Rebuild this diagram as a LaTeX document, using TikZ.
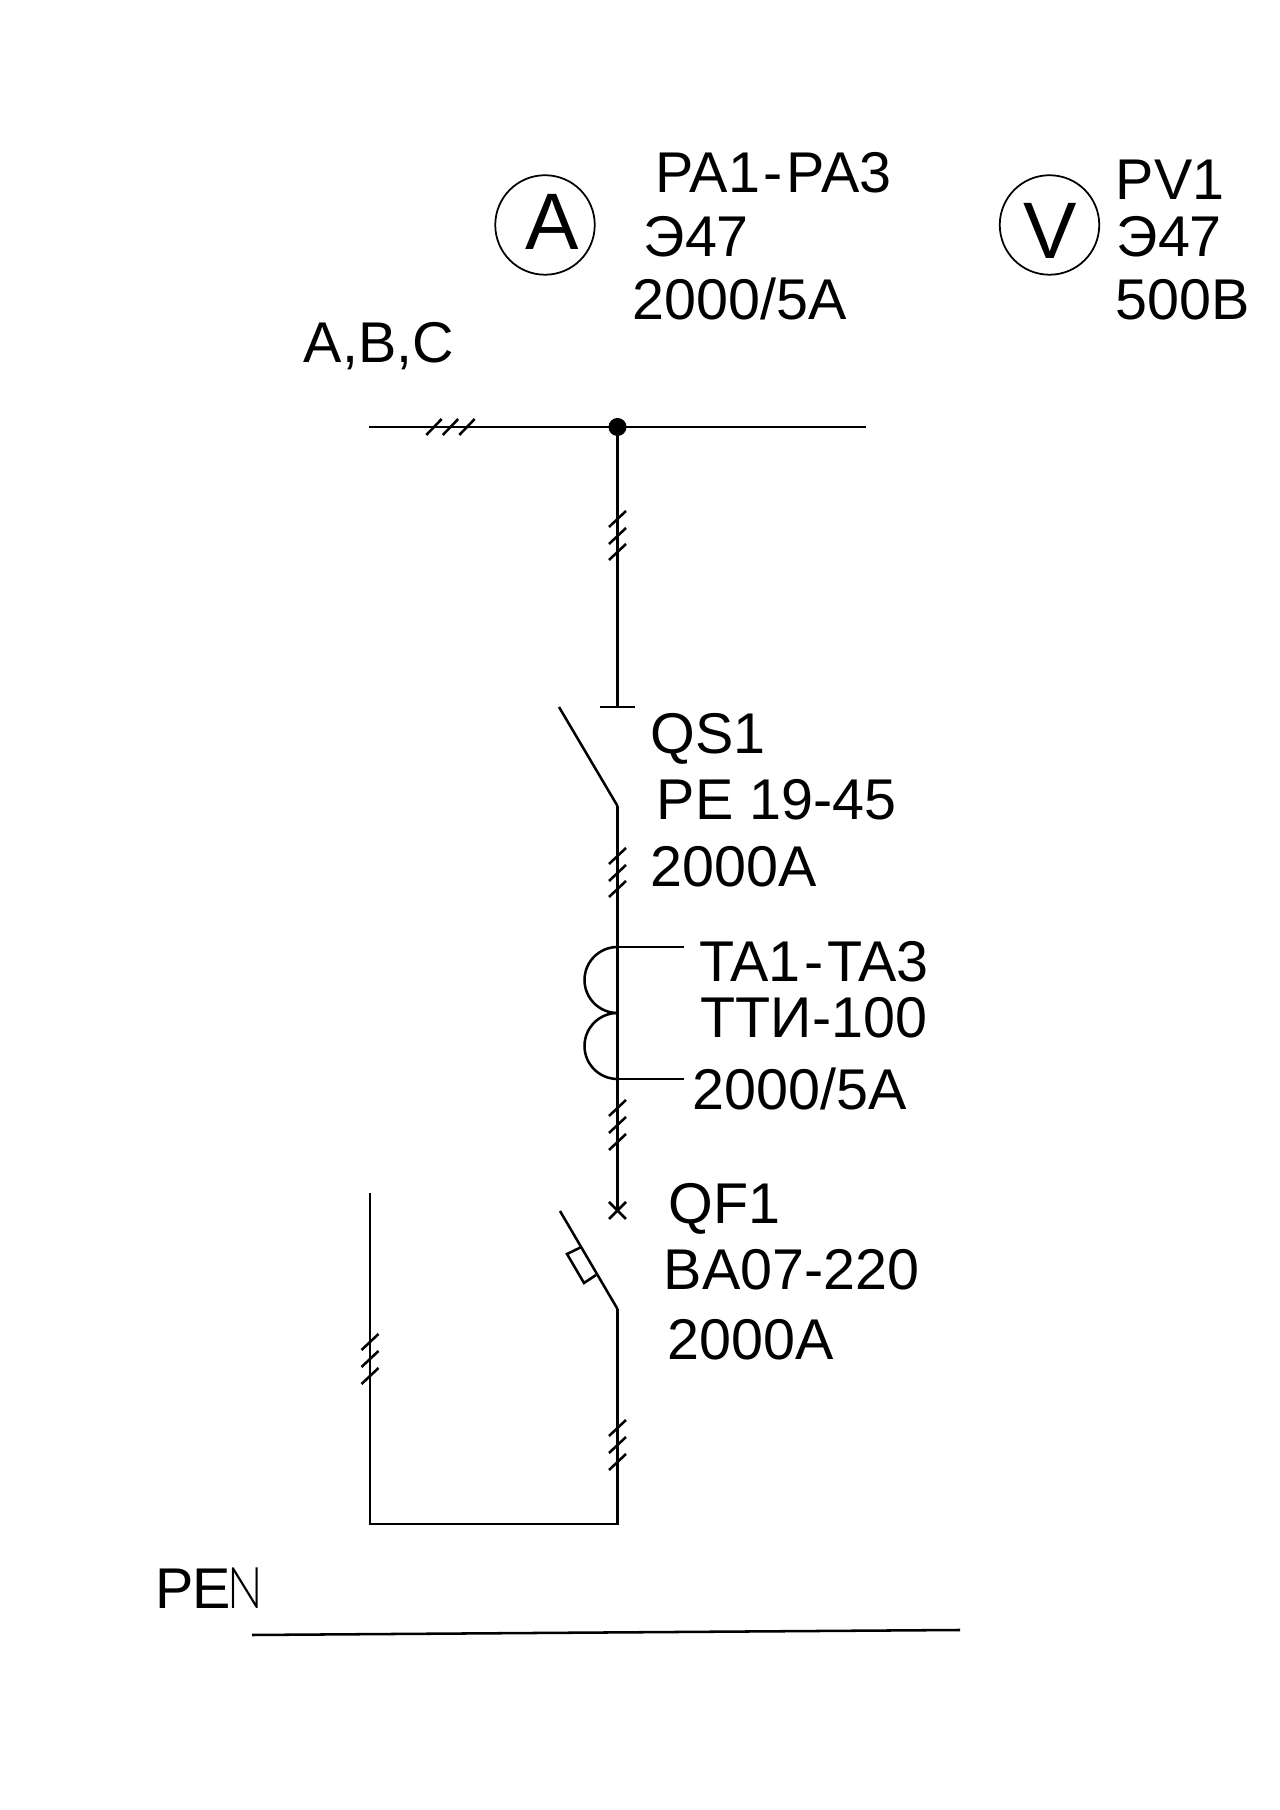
\documentclass[tikz,border=0pt]{standalone}
\usepackage{fontspec}
\setmainfont{Liberation Sans}
\newfontfamily\thinfont{Lato Light}
\tikzset{
  wire/.style={line width=0.72pt},
  meter/.style={draw, circle, line width=0.5pt, minimum size=0.995cm, inner sep=0pt},
  lbl/.style={anchor=base west, inner sep=0pt, font=\fontsize{16.35}{18}\selectfont},
  meterlbl/.style={anchor=base west, inner sep=0pt, font=\fontsize{22.8}{25}\selectfont}
}
\begin{document}
\begin{tikzpicture}
\useasboundingbox (0,0) rectangle (12.8,18.1);

% Points of the single line
\coordinate (buswest) at (3.69,13.83);
\coordinate (bustap) at (6.175,13.83);
\coordinate (buseast) at (8.66,13.83);
\coordinate (qstop) at (6.175,11.03);
\coordinate (qsbarw) at (6.00,11.03);
\coordinate (qsbare) at (6.35,11.03);
\coordinate (qstip) at (5.59,11.03);
\coordinate (qshinge) at (6.175,10.04);
\coordinate (qftop) at (6.175,5.99);
\coordinate (qftip) at (5.60,5.99);
\coordinate (qfhinge) at (6.175,5.01);
\coordinate (bottomr) at (6.175,2.86);
\coordinate (bottoml) at (3.70,2.86);
\coordinate (feedend) at (3.70,6.17);
\coordinate (pewest) at (2.52,1.75);
\coordinate (peeast) at (9.60,1.80);

% Meters
\node[meter] (ammeter) at (5.45,15.85) {};
\node[meter] (voltmeter) at (10.495,15.85) {};
\node[meterlbl] (ammeterlbl) at (5.25,15.60) {A};
\node[meterlbl] (voltmeterlbl) at (10.23,15.51) {V};
\node[lbl] (pa) at (6.55,16.17) {PA1\kern1.1pt-\kern1.1pt PA3};
\node[lbl] (paa) at (6.43,15.53) {Э47};
\node[lbl] (pab) at (6.32,14.90) {2000/5A};
\node[lbl] (pv) at (11.15,16.10) {PV1};
\node[lbl] (pva) at (11.16,15.53) {Э47};
\node[lbl] (pvb) at (11.15,14.90) {500B};

% Busbar
\node[lbl] (busname) at (3.03,14.47) {A,B,C};
\draw[wire] (buswest) -- (buseast);
\fill (bustap) circle (0.09);
\foreach \x in {4.34,4.505,4.67}
  \draw[wire] (\x-0.077,13.75) -- (\x+0.077,13.91);

% Disconnector
\draw[wire] (bustap) -- (qstop);
\draw[wire] (qsbarw) -- (qsbare);
\draw[wire] (qstip) -- (qshinge);
\draw[wire] (qshinge) -- (qftop);
\node[lbl] (qs) at (6.50,10.56) {QS1};
\node[lbl] (qsa) at (6.56,9.90) {PE 19-45};
\node[lbl] (qsb) at (6.50,9.23) {2000A};

% Current transformer
\coordinate (tatop) at (6.175,8.63);
\coordinate (tamid) at (6.175,7.97);
\coordinate (tabot) at (6.175,7.31);
\coordinate (tastuba) at (6.84,8.63);
\coordinate (tastubb) at (6.84,7.31);
\draw[wire] (tatop) arc[start angle=90, end angle=270, radius=0.33];
\draw[wire] (tamid) arc[start angle=90, end angle=270, radius=0.33];
\draw[wire] (tatop) -- (tastuba);
\draw[wire] (tabot) -- (tastubb);
\node[lbl] (ta) at (6.99,8.28) {TA1\kern1.1pt-\kern1.1pt TA3};
\node[lbl] (taa) at (7.00,7.72) {ТТИ-100};
\node[lbl] (tab) at (6.92,7.00) {2000/5A};

% Breaker
\draw[wire] (6.09,6.08) -- (6.26,5.91);
\draw[wire] (6.09,5.91) -- (6.26,6.08);
\draw[wire] (qftip) -- (qfhinge);
\draw[wire] (5.815,5.63) -- (5.67,5.56) -- (5.84,5.27) -- (5.96,5.35);
\node[lbl] (qf) at (6.68,5.86) {QF1};
\node[lbl] (qfa) at (6.63,5.20) {BA07-220};
\node[lbl] (qfb) at (6.67,4.50) {2000A};

% Outgoing line
\draw[wire] (qfhinge) -- (bottomr) -- (bottoml) -- (feedend);

% Phase ticks
\foreach \y in {12.91,12.74,12.58,9.54,9.37,9.21,7.02,6.85,6.68,3.82,3.65,3.48}
  \draw[wire] (6.09,\y-0.08) -- (6.26,\y+0.08);
\foreach \y in {4.68,4.51,4.34}
  \draw[wire] (3.615,\y-0.08) -- (3.785,\y+0.08);

% Protective conductor
\node[lbl] (pen) at (1.55,2.01) {\addfontfeature{LetterSpace=-3}PE\kern-1pt\scalebox{0.82}[1]{\thinfont N}};
\draw[wire] (pewest) -- (peeast);

\end{tikzpicture}
\end{document}
